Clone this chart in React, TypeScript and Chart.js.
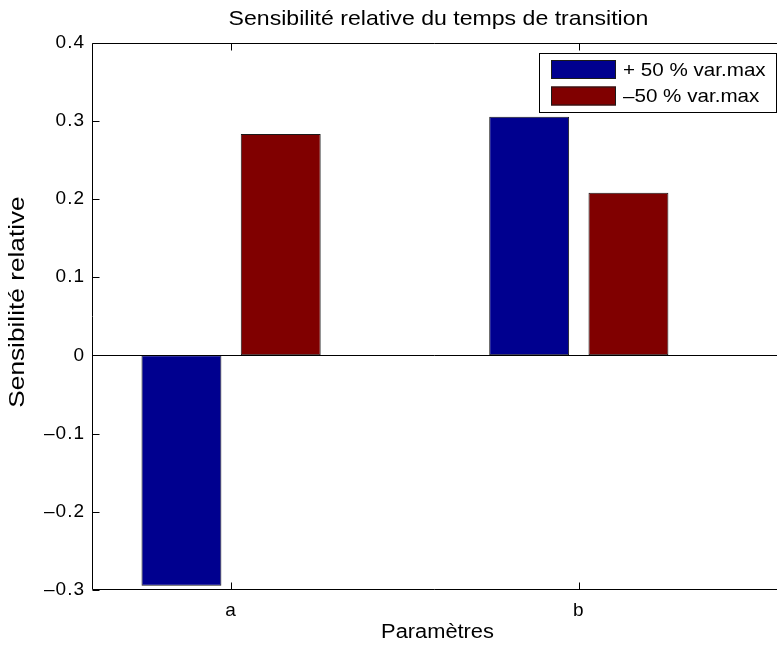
import React, { useEffect, useRef } from 'react';
import { Chart, registerables } from 'chart.js';

Chart.register(...registerables);

// Parameters on the horizontal axis
const categories = ['a', 'b'];

// Relative sensitivity of the transition time for each perturbation
const seriesLabels = ['+ 50 % var.max', '–50 % var.max'];
const plus50 = [-0.2945, 0.305];
const minus50 = [0.283, 0.208];
const seriesColors = ['#00008F', '#800000'];

// Value axis ticks
const yTickValues = [-0.3, -0.2, -0.1, 0, 0.1, 0.2, 0.3, 0.4];
const yTickLabels = ['–0.3', '–0.2', '–0.1', '0', '0.1', '0.2', '0.3', '0.4'];

const titleText = 'Sensibilité relative du temps de transition';
const xTitleText = 'Paramètres';
const yTitleText = 'Sensibilité relative';

const FONT_FAMILY = '"Liberation Sans", Arial, Helvetica, sans-serif';
const INK = '#000000';

// Text drawn with a slight horizontal stretch (wide Helvetica look)
function drawWideText(ctx: CanvasRenderingContext2D, text: string, x: number, y: number, size: number, stretch: number, align: CanvasTextAlign) {
  ctx.save();
  ctx.translate(x, y);
  ctx.scale(stretch, 1);
  ctx.font = `${size}px ${FONT_FAMILY}`;
  ctx.letterSpacing = '0px';
  ctx.textAlign = align;
  ctx.textBaseline = 'middle';
  ctx.fillText(text, 0, 0);
  ctx.restore();
}

// Draws the boxed axes, inward tick marks, zero baseline, legend and titles
const framePlugin = {
  id: 'matlabFrame',
  beforeDraw(chart: any) {
    chart.ctx.letterSpacing = '1px';
  },
  afterDatasetsDraw(chart: any) {
    const { ctx, chartArea } = chart;
    const xs = chart.scales.x;
    const ys = chart.scales.y;
    const left = Math.round(chartArea.left) + 0.5;
    const top = Math.round(chartArea.top) + 0.5;
    const bottom = Math.round(chartArea.bottom) - 0.5;
    const right = chartArea.right;
    const tickLen = 7;

    ctx.save();
    ctx.strokeStyle = INK;
    ctx.lineWidth = 1;

    // zero baseline
    const y0 = Math.round(ys.getPixelForValue(0)) + 0.5;
    ctx.beginPath();
    ctx.moveTo(left, y0);
    ctx.lineTo(right, y0);
    ctx.stroke();

    // axes box (left, top, bottom)
    ctx.beginPath();
    ctx.moveTo(right, top);
    ctx.lineTo(left, top);
    ctx.lineTo(left, bottom);
    ctx.lineTo(right, bottom);
    ctx.stroke();

    // inward ticks on the value axis
    ctx.beginPath();
    yTickValues.forEach((v) => {
      const py = Math.round(ys.getPixelForValue(v)) + 0.5;
      ctx.moveTo(left, py);
      ctx.lineTo(left + tickLen, py);
    });
    // inward ticks on the category axis, bottom and top
    categories.forEach((_, i) => {
      const px = Math.round(xs.getPixelForValue(i + 1)) + 0.5;
      ctx.moveTo(px, bottom);
      ctx.lineTo(px, bottom - tickLen);
      ctx.moveTo(px, top);
      ctx.lineTo(px, top + tickLen);
    });
    ctx.stroke();

    // legend box in the upper right corner
    const lgLeft = 539.5;
    const lgTop = 53.5;
    const lgRight = 776.5;
    const lgBottom = 112.5;
    ctx.fillStyle = '#ffffff';
    ctx.fillRect(lgLeft, lgTop, lgRight - lgLeft, lgBottom - lgTop);
    ctx.strokeRect(lgLeft, lgTop, lgRight - lgLeft, lgBottom - lgTop);
    seriesLabels.forEach((label, i) => {
      const cy = 69.5 + i * 26.5;
      ctx.fillStyle = seriesColors[i];
      ctx.fillRect(551, cy - 9.5, 65, 19);
      ctx.strokeStyle = '#1a1a1a';
      ctx.strokeRect(551.5, cy - 9, 64, 18);
      ctx.fillStyle = INK;
      drawWideText(ctx, label, 623, cy + 1, 19, 1.085, 'left');
    });

    // title and axis titles
    const cx = (chartArea.left + chartArea.right) / 2 + 4;
    ctx.fillStyle = INK;
    drawWideText(ctx, titleText, cx, 19, 21, 1.1, 'center');
    drawWideText(ctx, xTitleText, cx - 1, 633, 19.5, 1.12, 'center');
    ctx.save();
    ctx.translate(18, 302);
    ctx.rotate(-Math.PI / 2);
    drawWideText(ctx, yTitleText, 0, 0, 21.5, 1.22, 'center');
    ctx.restore();

    ctx.restore();
  },
  afterDraw(chart: any) {
    chart.ctx.letterSpacing = '0px';
  },
};

export default function App() {
  const canvasRef = useRef<HTMLCanvasElement | null>(null);

  useEffect(() => {
    const canvas = canvasRef.current;
    if (!canvas) return;

    const tickFont = { family: FONT_FAMILY, size: 19 };

    const chart = new Chart(canvas, {
      type: 'bar',
      data: {
        datasets: [plus50, minus50].map((values, s) => ({
          label: seriesLabels[s],
          data: categories.map((_, i) => ({ x: i + 1, y: values[i] })),
          backgroundColor: seriesColors[s],
          borderColor: '#1a1a1a',
          borderWidth: 1,
          borderSkipped: false,
        })),
      },
      options: {
        responsive: false,
        animation: false,
        devicePixelRatio: 1,
        categoryPercentage: 0.571,
        barPercentage: 0.805,
        layout: { padding: { top: 42.5, right: 0, bottom: 0, left: 0 } },
        plugins: {
          legend: { display: false },
          tooltip: { enabled: false },
          title: { display: false },
        },
        scales: {
          x: {
            type: 'linear',
            min: 0.6,
            max: 2.57,
            offset: false,
            grid: { display: false, drawTicks: false },
            border: { display: false },
            afterBuildTicks: (scale: any) => {
              scale.ticks = categories.map((_, i) => ({ value: i + 1 }));
            },
            afterFit: (scale: any) => {
              scale.height = 56;
            },
            ticks: {
              autoSkip: false,
              maxRotation: 0,
              padding: 9,
              color: INK,
              font: tickFont,
              callback: (v: any) => categories[Math.round(Number(v)) - 1] ?? '',
            },
          },
          y: {
            type: 'linear',
            min: -0.3,
            max: 0.4,
            grid: { display: false, drawTicks: false },
            border: { display: false },
            afterBuildTicks: (scale: any) => {
              scale.ticks = yTickValues.map((v) => ({ value: v }));
            },
            afterFit: (scale: any) => {
              scale.width = 92;
            },
            ticks: {
              autoSkip: false,
              padding: 7,
              color: INK,
              font: tickFont,
              callback: (_v: any, i: number) => yTickLabels[i],
            },
          },
        },
      } as any,
      plugins: [framePlugin],
    });

    return () => chart.destroy();
  }, []);

  return (
    <div style={{ position: 'absolute', left: 0, top: 0, width: 777, height: 646, background: '#fff' }}>
      <canvas ref={canvasRef} width={777} height={646} style={{ display: 'block' }} />
    </div>
  );
}
